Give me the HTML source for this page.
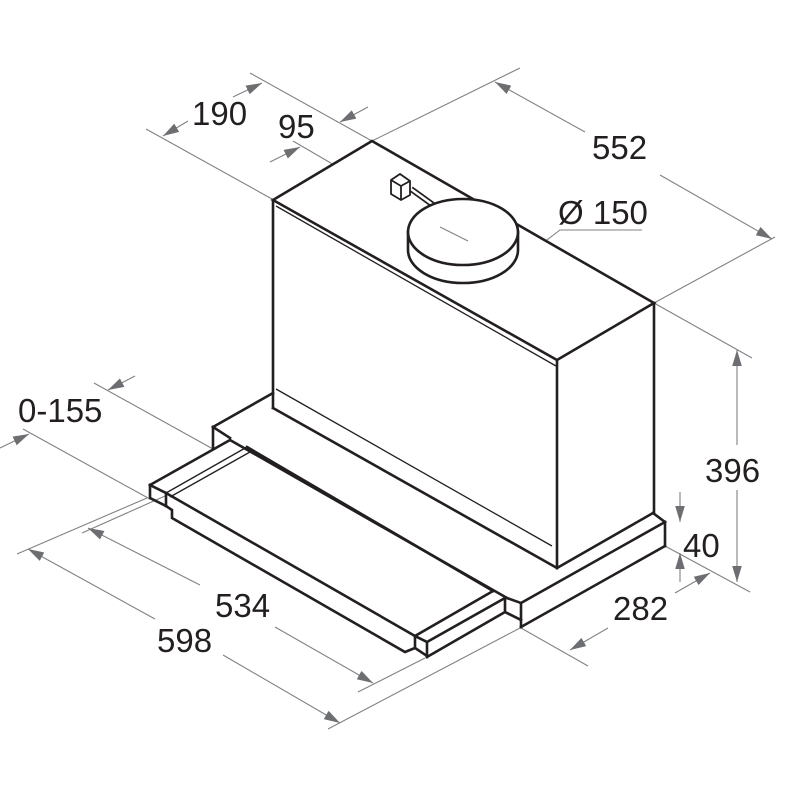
<!DOCTYPE html>
<html><head><meta charset="utf-8"><style>
html,body{margin:0;padding:0;background:#fff;}
svg{display:block}
text{font-family:"Liberation Sans",sans-serif;font-size:33px;fill:#231f20}
</style></head><body>
<svg width="800" height="800" viewBox="0 0 800 800" xmlns="http://www.w3.org/2000/svg">
<defs>
<marker id="a" viewBox="0 0 10 10" refX="10" refY="5" markerWidth="16" markerHeight="16" markerUnits="userSpaceOnUse" orient="auto"><path d="M0,2 L10,5 L0,8 z" fill="#6d6e71"/></marker>
</defs>
<g stroke="#808285" stroke-width="1.1" fill="none">
  <line x1="372" y1="141" x2="520" y2="68"/>
  <line x1="654" y1="303" x2="775" y2="237"/>
  <line x1="585" y1="132" x2="495" y2="82" marker-end="url(#a)"/>
  <line x1="660" y1="175" x2="772" y2="239" marker-end="url(#a)"/>
  <line x1="146" y1="129" x2="272" y2="199"/>
  <line x1="250" y1="73" x2="372" y2="141"/>
  <line x1="188" y1="121" x2="163" y2="136" marker-end="url(#a)"/>
  <line x1="233" y1="97" x2="262" y2="83" marker-end="url(#a)"/>
  <line x1="293" y1="141" x2="463" y2="240"/>
  <line x1="270" y1="162" x2="300" y2="147" marker-end="url(#a)"/>
  <line x1="368" y1="107" x2="340" y2="122" marker-end="url(#a)"/>
  <polyline points="642,230 560,230 518,262"/>
  <line x1="654" y1="303" x2="752" y2="358"/>
  <line x1="665" y1="546" x2="750" y2="592"/>
  <line x1="737" y1="445" x2="737" y2="350" marker-end="url(#a)"/>
  <line x1="737" y1="490" x2="737" y2="582" marker-end="url(#a)"/>
  <line x1="680" y1="492" x2="680" y2="522" marker-end="url(#a)"/>
  <line x1="680" y1="582" x2="680" y2="553" marker-end="url(#a)"/>
  <line x1="521" y1="628" x2="588" y2="666"/>
  <line x1="608" y1="628" x2="570" y2="650" marker-end="url(#a)"/>
  <line x1="675" y1="593" x2="710" y2="573" marker-end="url(#a)"/>
  <line x1="94" y1="383" x2="213" y2="449"/>
  <line x1="23" y1="429" x2="148" y2="498"/>
  <line x1="135" y1="376" x2="108" y2="390" marker-end="url(#a)"/>
  <line x1="0" y1="448" x2="29" y2="434" marker-end="url(#a)"/>
  <line x1="82" y1="533" x2="165" y2="496"/>
  <line x1="200" y1="585" x2="88" y2="528" marker-end="url(#a)"/>
  <line x1="275" y1="627" x2="373" y2="683" marker-end="url(#a)"/>
  <line x1="358" y1="692" x2="425" y2="658"/>
  <line x1="17" y1="554" x2="147" y2="498"/>
  <line x1="155" y1="619" x2="28" y2="549" marker-end="url(#a)"/>
  <line x1="223" y1="655" x2="340" y2="723" marker-end="url(#a)"/>
  <line x1="328" y1="729" x2="520" y2="628"/>
</g>
<g stroke="#231f20" stroke-width="2.6" fill="none" stroke-linejoin="miter" stroke-linecap="square">
  <polygon points="273,200 372,141 654,303 557,360" fill="#fff"/>
  <line x1="273" y1="200" x2="273" y2="408"/>
  <line x1="557" y1="360" x2="557" y2="568"/>
  <line x1="654" y1="303" x2="654" y2="513"/>
  <line x1="273" y1="408" x2="557" y2="568"/>
  <line x1="557" y1="568" x2="653" y2="513"/>
  <line x1="213" y1="427" x2="273" y2="393"/>
  <line x1="213" y1="427" x2="230" y2="438"/>
  <line x1="213" y1="427" x2="213" y2="449"/>
  <line x1="230" y1="440" x2="507" y2="598"/>
  <line x1="653" y1="513" x2="665" y2="522"/>
  <line x1="665" y1="522" x2="521" y2="603"/>
  <line x1="507" y1="598" x2="521" y2="603"/>
  <line x1="521" y1="603" x2="521" y2="627"/>
  <line x1="521" y1="627" x2="665" y2="546"/>
  <line x1="665" y1="522" x2="665" y2="546"/>
  <line x1="505" y1="612" x2="521" y2="620"/>
  <line x1="150" y1="485" x2="230" y2="440"/>
  <line x1="150" y1="485" x2="150" y2="498"/>
  <line x1="150" y1="485" x2="166" y2="493"/>
  <line x1="150" y1="498" x2="166" y2="506"/>
  <line x1="166" y1="493" x2="166" y2="506"/>
  <polyline points="166,506 172,510 172,518 405,652 415,648"/>
  <line x1="166" y1="493" x2="415" y2="636"/>
  <line x1="247" y1="447" x2="493" y2="591"/>
  <line x1="493" y1="591" x2="415" y2="636"/>
  <line x1="415" y1="636" x2="415" y2="648"/>
  <line x1="415" y1="636" x2="427" y2="642"/>
  <line x1="415" y1="648" x2="427" y2="656"/>
  <line x1="427" y1="642" x2="427" y2="657"/>
  <line x1="427" y1="642" x2="505" y2="598"/>
  <line x1="505" y1="598" x2="505" y2="612"/>
  <line x1="427" y1="657" x2="505" y2="612"/>
</g>
<g stroke="#231f20" stroke-width="1.3" fill="none">
  <line x1="276" y1="206" x2="556" y2="366"/>
  <line x1="276" y1="389" x2="552" y2="546"/>
  <line x1="166" y1="493" x2="247" y2="447"/>
  <line x1="170" y1="497" x2="250" y2="452"/>
</g>
<g stroke="#231f20" stroke-width="1.8" fill="#fff">
  <path d="M411,189 L436,207" stroke-width="6"/>
  <path d="M411,189 L436,207" stroke="#fff" stroke-width="2.5"/>
  <polygon points="391,180 400,174 410,181 410,195 401,200 391,194"/>
  <polyline points="391,180 401,186 410,181" fill="none"/>
  <line x1="401" y1="186" x2="401" y2="200"/>
</g>
<g stroke="#231f20" stroke-width="2.6" fill="#fff">
  <path d="M408,232 L408,250 A55,33 0 0 0 518,250 L518,232 Z"/>
  <ellipse cx="463" cy="232" rx="55" ry="33"/>
</g>
<line x1="440" y1="227" x2="468" y2="241" stroke="#808285" stroke-width="1.1"/>
<text x="192" y="125">190</text>
<text x="278" y="138">95</text>
<text x="592" y="159">552</text>
<text x="558" y="224">Ø 150</text>
<text x="705" y="482">396</text>
<text x="683" y="557">40</text>
<text x="613" y="620">282</text>
<text x="18" y="422">0-155</text>
<text x="215" y="617">534</text>
<text x="157" y="652">598</text>
</svg>
</body></html>
